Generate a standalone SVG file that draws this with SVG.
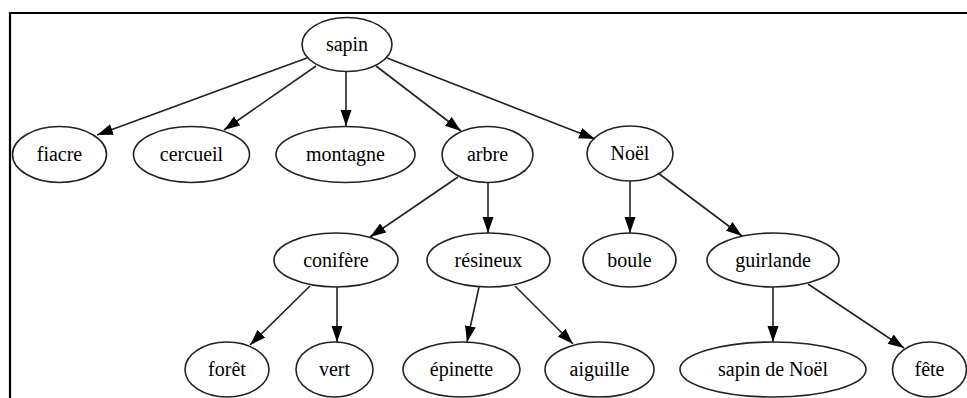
<svg xmlns="http://www.w3.org/2000/svg" width="967" height="398" viewBox="0 0 967 398" font-family="Liberation Serif, Times New Roman, serif">
<style>
.n ellipse{fill:none;stroke:#222;stroke-width:1.6}
.n text{font-family:"Liberation Serif",serif;font-size:20px;fill:#000;text-anchor:middle}
.e line{stroke:#222;stroke-width:1.6;marker-end:url(#arr)}
</style>
<defs>
<marker id="arr" markerUnits="userSpaceOnUse" markerWidth="18" markerHeight="12" refX="16" refY="5.5" orient="auto">
<path d="M0,0 L16,5.5 L0,11 z" fill="#000"/>
</marker>
</defs>
<rect width="967" height="398" fill="#fff"/>
<path d="M10,398 V13 H967" fill="none" stroke="#000" stroke-width="2.2"/>
<g id="edges" class="e">
<line x1="307" y1="58" x2="97" y2="135"/>
<line x1="316" y1="66" x2="224" y2="130"/>
<line x1="346" y1="72" x2="346" y2="126"/>
<line x1="376" y1="66" x2="461" y2="131"/>
<line x1="387" y1="58" x2="595" y2="139"/>
<line x1="458" y1="177" x2="370" y2="237"/>
<line x1="488" y1="182" x2="488" y2="233"/>
<line x1="630" y1="181" x2="630" y2="233"/>
<line x1="658" y1="173" x2="742" y2="236"/>
<line x1="310" y1="286" x2="250" y2="345"/>
<line x1="337" y1="287" x2="337" y2="342"/>
<line x1="479" y1="287" x2="467" y2="342"/>
<line x1="515" y1="286" x2="573" y2="344"/>
<line x1="773" y1="287" x2="773" y2="342"/>
<line x1="808" y1="284" x2="904" y2="348"/>
</g>
<g id="sapin" class="n"><ellipse cx="347" cy="44.5" rx="45" ry="27"/><text x="347" y="51" font-family="Liberation Serif">sapin</text></g>
<g id="fiacre" class="n"><ellipse cx="59.5" cy="154.5" rx="47" ry="28"/><text x="59.5" y="161" font-family="Liberation Serif">fiacre</text></g>
<g id="cercueil" class="n"><ellipse cx="191.5" cy="154.5" rx="58" ry="28"/><text x="191.5" y="161" font-family="Liberation Serif">cercueil</text></g>
<g id="montagne" class="n"><ellipse cx="345.5" cy="154.5" rx="69.5" ry="28"/><text x="345.5" y="161" font-family="Liberation Serif">montagne</text></g>
<g id="arbre" class="n"><ellipse cx="487.5" cy="154.5" rx="45.5" ry="28"/><text x="487.5" y="161" font-family="Liberation Serif">arbre</text></g>
<g id="noel" class="n"><ellipse cx="630" cy="153.5" rx="43" ry="27.5"/><text x="630" y="160" font-family="Liberation Serif">Noël</text></g>
<g id="conifere" class="n"><ellipse cx="336" cy="260" rx="62" ry="27"/><text x="336" y="266.5" font-family="Liberation Serif">conifère</text></g>
<g id="resineux" class="n"><ellipse cx="488.5" cy="260" rx="61.5" ry="27"/><text x="488.5" y="266.5" font-family="Liberation Serif">résineux</text></g>
<g id="boule" class="n"><ellipse cx="629.5" cy="260" rx="46.5" ry="27"/><text x="629.5" y="266.5" font-family="Liberation Serif">boule</text></g>
<g id="guirlande" class="n"><ellipse cx="773" cy="260" rx="66" ry="27"/><text x="773" y="266.5" font-family="Liberation Serif">guirlande</text></g>
<g id="foret" class="n"><ellipse cx="227" cy="369.5" rx="42" ry="27.5"/><text x="227" y="376" font-family="Liberation Serif">forêt</text></g>
<g id="vert" class="n"><ellipse cx="334.5" cy="369.5" rx="38.5" ry="27.5"/><text x="334.5" y="376" font-family="Liberation Serif">vert</text></g>
<g id="epinette" class="n"><ellipse cx="461.5" cy="369.5" rx="58.5" ry="27.5"/><text x="461.5" y="376" font-family="Liberation Serif">épinette</text></g>
<g id="aiguille" class="n"><ellipse cx="599.5" cy="369.5" rx="54.5" ry="27.5"/><text x="599.5" y="376" font-family="Liberation Serif">aiguille</text></g>
<g id="sapin-de-noel" class="n"><ellipse cx="773" cy="369.5" rx="93" ry="27.5"/><text x="773" y="376" font-family="Liberation Serif">sapin de Noël</text></g>
<g id="fete" class="n"><ellipse cx="929.5" cy="369.5" rx="37" ry="27.5"/><text x="929.5" y="376" font-family="Liberation Serif">fête</text></g>
</svg>
